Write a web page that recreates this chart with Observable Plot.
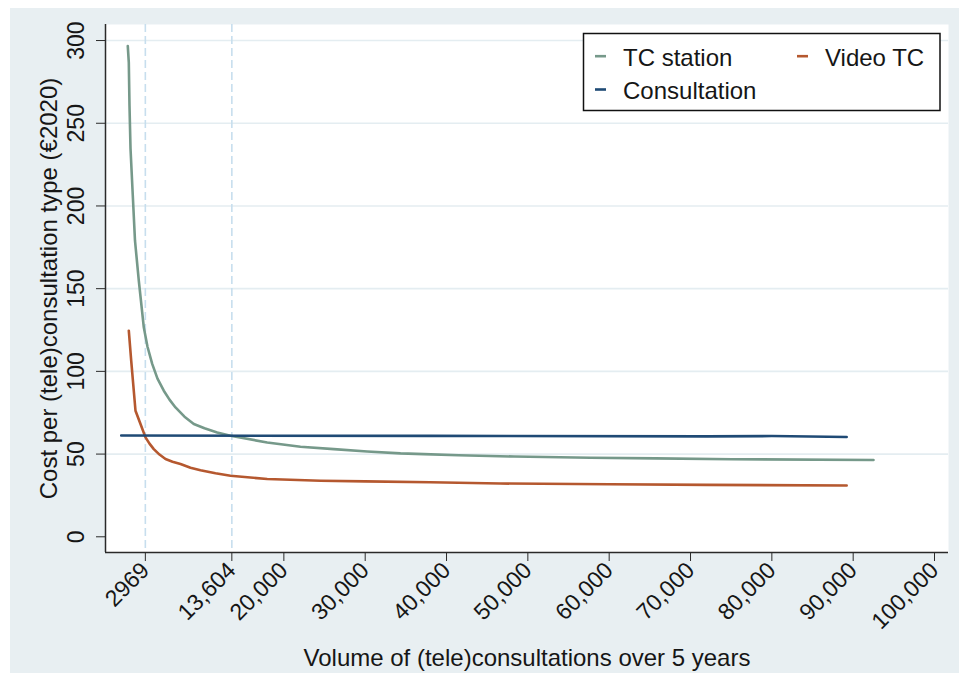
<!DOCTYPE html>
<html>
<head>
<meta charset="utf-8">
<script src="https://cdn.jsdelivr.net/npm/d3@7"></script>
<script src="https://cdn.jsdelivr.net/npm/@observablehq/plot@0.6"></script>
<style>
  html, body { margin: 0; padding: 0; background: #ffffff; }
  #wrap { position: relative; width: 959px; height: 673px; overflow: hidden; font-family: "Liberation Sans", Arial, sans-serif; }
  #bg { position: absolute; left: 10px; top: 8px; right: 0; bottom: 0; background: #e8eff2; }
  #chart { position: absolute; left: 0; top: 0; }
  #legend { position: absolute; left: 0; top: 0; pointer-events: none; }
</style>
</head>
<body>
<div id="wrap">
  <div id="bg"></div>
  <div id="chart"></div>
  <svg id="legend" width="959" height="673"></svg>
</div>
<script>
// ---- data ----
const seriesNames = ["TC station", "Video TC", "Consultation"];
const seriesColors = ["#76998a", "#b5582f", "#1f4a75"];

const tcStationVolume = [810, 935, 1020, 1145, 1425, 1697, 2164, 2779, 3234, 3812, 4463, 5238, 5939, 6677, 7783, 8927, 10242, 11804, 13439, 17952, 22045, 26140, 30247, 34342, 37200, 41500, 48300, 57700, 65700, 75100, 92500];
const tcStationCost   = [296.6, 286.7, 260.7, 234.7, 206.3, 179.0, 154.8, 126.6, 114.9, 104.5, 95.6, 88.3, 82.9, 78.2, 72.6, 68.2, 65.6, 63.1, 61.1, 57.0, 54.4, 53.0, 51.6, 50.4, 50.0, 49.3, 48.5, 47.8, 47.4, 46.9, 46.4];

const videoTcVolume = [935, 1230, 1758, 2373, 2988, 3480, 4008, 4709, 5447, 6308, 7291, 8521, 9750, 11595, 13439, 17952, 24505, 30000, 38000, 46600, 60000, 72000, 89200];
const videoTcCost   = [124.6, 106.5, 76.2, 68.2, 60.1, 56.3, 53.0, 49.7, 47.0, 45.4, 44.0, 41.7, 40.2, 38.4, 36.9, 34.9, 33.9, 33.5, 33.0, 32.2, 31.8, 31.4, 31.0];

const consultationVolume = [0, 38000, 72000, 80000, 89200];
const consultationCost   = [61.2, 61.0, 60.7, 60.9, 60.3];

const xTickValues = [2969, 13604, 20000, 30000, 40000, 50000, 60000, 70000, 80000, 90000, 100000];
const xTickLabels = ["2969", "13,604", "20,000", "30,000", "40,000", "50,000", "60,000", "70,000", "80,000", "90,000", "100,000"];
const yTickValues = [0, 50, 100, 150, 200, 250, 300];
const yGridValues = [50, 100, 150, 200, 250, 300];
const referenceVolumes = [2969, 13604];

const xTitle = "Volume of (tele)consultations over 5 years";
const yTitle = "Cost per (tele)consultation type (€2020)";

// ---- build table ----
const rows = [];
const addSeries = (name, vols, costs) => vols.forEach((v, i) => rows.push({series: name, volume: v, cost: costs[i]}));
addSeries(seriesNames[0], tcStationVolume, tcStationCost);
addSeries(seriesNames[1], videoTcVolume, videoTcCost);
addSeries(seriesNames[2], consultationVolume, consultationCost);

const xDomain = [-1930, 101720];
const yDomain = [-9.5, 309.7];
const ink = "#161616";

const chart = Plot.plot({
  width: 959,
  height: 673,
  marginLeft: 105,
  marginRight: 11,
  marginTop: 24,
  marginBottom: 121,
  x: {domain: xDomain},
  y: {domain: yDomain},
  color: {domain: seriesNames, range: seriesColors},
  style: {background: "transparent", fontFamily: "'Liberation Sans', Arial, sans-serif", fontSize: "23px", color: ink, overflow: "visible"},
  marks: [
    Plot.frame({fill: "white", stroke: null}),
    Plot.gridY(yGridValues, {stroke: "#e4edf1", strokeOpacity: 1, strokeWidth: 1.6}),
    Plot.ruleX(referenceVolumes, {stroke: "#c7deee", strokeWidth: 1.6, strokeDasharray: "8,4"}),
    Plot.line(rows, {x: "volume", y: "cost", z: "series", stroke: "series", strokeWidth: 2.6, strokeLinejoin: "round", curve: "linear"}),
    Plot.ruleX([xDomain[0]], {stroke: "#2a2a2a", strokeWidth: 1.5}),
    Plot.ruleY([yDomain[0]], {stroke: "#2a2a2a", strokeWidth: 1.5}),
    Plot.axisY(yTickValues, {
      tickSize: 9, tickRotate: -90, tickPadding: 13, fontSize: 23, label: null,
      stroke: "#2a2a2a", fill: ink
    }),
    Plot.axisX(xTickValues, {
      tickSize: 9, tickRotate: -45, textAnchor: "end", lineAnchor: "middle", tickPadding: 5,
      fontSize: 23, label: null, stroke: "#2a2a2a", fill: ink,
      tickFormat: d => xTickLabels[xTickValues.indexOf(d)]
    }),
    Plot.text([yTitle], {frameAnchor: "left", rotate: -90, dx: -56, fontSize: 24, fill: ink, lineAnchor: "middle", textAnchor: "middle"}),
    Plot.text([xTitle], {frameAnchor: "bottom", dy: 106, fontSize: 24, fill: ink, lineAnchor: "middle", textAnchor: "middle"})
  ]
});
document.getElementById("chart").appendChild(chart);

// ---- legend (inside the plot region, as in the reference) ----
const legend = d3.select("#legend");
legend.append("rect").attr("x", 583.5).attr("y", 33.5).attr("width", 356.5).attr("height", 77)
  .attr("fill", "white").attr("stroke", "#111").attr("stroke-width", 1.5);
const legendItems = [
  {name: seriesNames[0], color: seriesColors[0], x: 595, y: 65.7},
  {name: seriesNames[1], color: seriesColors[1], x: 797, y: 65.7},
  {name: seriesNames[2], color: seriesColors[2], x: 595, y: 99}
];
legendItems.forEach(it => {
  legend.append("line").attr("x1", it.x).attr("x2", it.x + 11).attr("y1", it.y - 9.5).attr("y2", it.y - 9.5)
    .attr("stroke", it.color).attr("stroke-width", 2.6);
  legend.append("text").attr("x", it.x + 28).attr("y", it.y).text(it.name)
    .attr("font-family", "'Liberation Sans', Arial, sans-serif").attr("font-size", 24).attr("fill", ink);
});
</script>
</body>
</html>
